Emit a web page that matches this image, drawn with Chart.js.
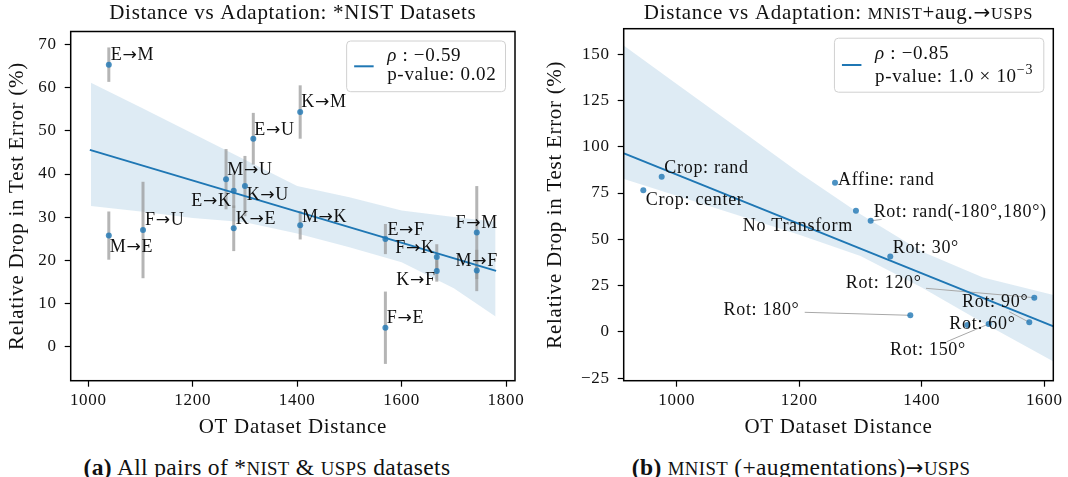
<!DOCTYPE html>
<html>
<head>
<meta charset="utf-8">
<script src="https://cdn.jsdelivr.net/npm/chart.js@4.4.1/dist/chart.umd.min.js"></script>
<style>
  body { margin: 0; background: #fff; width: 1068px; height: 477px; position: relative; overflow: hidden;
         font-family: "Liberation Serif", serif; color: #111; }
  .panel { position: absolute; top: 0; width: 534px; height: 445px; }
  .cap { position: absolute; top: 453px; width: 534px; text-align: center; font-size: 23.5px; line-height: 28px; letter-spacing: 0.35px; }
  .sc { font-size: 0.8em; }
  .ar { font-family: "DejaVu Sans", sans-serif; font-size: 0.9em; }
</style>
</head>
<body>
<div class="panel" style="left:0"><canvas id="left"></canvas></div>
<div class="panel" style="left:534px"><canvas id="right"></canvas></div>
<div class="cap" style="left:0"><b>(a)</b> All pairs of *<span class="sc">NIST</span> &amp; <span class="sc">USPS</span> datasets</div>
<div class="cap" style="left:534px"><b>(b)</b> <span class="sc">MNIST</span> (+augmentations)<span class="ar">→</span><span class="sc">USPS</span></div>
<script>
// ---- left panel: *NIST pairs ----
const pairLabels = ['E→M', 'K→M', 'E→U', 'M→U', 'E→K', 'K→U', 'K→E', 'M→K', 'F→U', 'M→E', 'E→F', 'F→M', 'F→K', 'K→F', 'M→F', 'F→E'];
const pairDist = [1039.3, 1405.8, 1316, 1263.8, 1278.5, 1300, 1278.5, 1405.8, 1104.8, 1039.3, 1569, 1744, 1667.4, 1667.4, 1744, 1569];
const pairDrop = [65.4, 54.4, 48.2, 38.8, 36.1, 37.2, 27.4, 28.1, 27.0, 25.7, 24.9, 26.4, 20.7, 17.5, 17.6, 4.3];
const pairErr = [4, 6.2, 6, 7, 4, 7, 5.3, 3.3, 11.2, 5.6, 3.5, 10.8, 3, 2.5, 4.8, 8.4];
const fitXLeft = [1003, 1781];
const fitYLeft = [45.6, 17.5];
const bandXLeft = [1005, 1100, 1200, 1300, 1400, 1500, 1600, 1700, 1780];
const bandHiLeft = [61.2, 55.5, 49.4, 43.3, 37.2, 34.6, 31.5, 30.0, 28.9];
const bandLoLeft = [32.6, 31.3, 29.8, 28.8, 26.2, 23.0, 19.5, 13.5, 6.9];
const xTicksLeft = [1000, 1200, 1400, 1600, 1800];
const yTicksLeft = [0, 10, 20, 30, 40, 50, 60, 70];

// ---- right panel: MNIST + augmentations -> USPS ----
const augLabels = ['Crop: center', 'Crop: rand', 'Affine: rand', 'No Transform', 'Rot: rand(-180°,180°)', 'Rot: 30°', 'Rot: 180°', 'Rot: 120°', 'Rot: 90°', 'Rot: 60°', 'Rot: 150°'];
const augDist = [945.5, 975.5, 1258.4, 1292.6, 1316.6, 1348.6, 1381.3, 1583.7, 1575.5, 1474.3, 1509.2];
const augDrop = [76.5, 83.8, 80.6, 65.4, 60.0, 40.8, 9.0, 18.5, 5.2, 3.8, 4.3];
const fitXRight = [914, 1615];
const fitYRight = [96.4, 3.0];
const bandXRight = [914, 1000, 1100, 1200, 1300, 1400, 1500, 1615];
const bandHiRight = [154.5, 133.9, 110, 86, 63.5, 43.5, 29.4, 20];
const bandLoRight = [82.6, 73.5, 63, 52.5, 41, 24, 5, -16];
const xTicksRight = [1000, 1200, 1400, 1600];
const yTicksRight = [-25, 0, 25, 50, 75, 100, 125, 150];

// label placement (px offset from the point, alignment, optional leader end)
const pairLabelPos = [
  [2, -4.5, 'left'], [1, -5, 'left'], [1, -4, 'left'], [1.3, -4.3, 'left'], [-2, 15, 'right'],
  [1.7, 14, 'left'], [2, -4.3, 'left'], [1.7, -3.6, 'left'], [2, -5, 'left'], [1, 16.6, 'left'],
  [2, -4, 'left'], [0, -4.4, 'center'], [-2, -4.3, 'right'], [-1, 14.3, 'right'], [0, -4.3, 'center'],
  [1.4, -4.4, 'left']
];
const augLabelPos = [
  [2.4, 14.7, 'left'], [2.6, -3.5, 'left'], [3, 2.5, 'left'], [-3, 20, 'right'],
  [3, -4, 'left', [11, -1.4]], [2.4, -3.6, 'left'], [-110.8, -0.3, 'right', [-105.6, -3]],
  [-112.6, -9.4, 'right', [-108.3, -9.4]], [-1, -15, 'right', [-20, -10.6]],
  [-18, 4.3, 'left'], [-98.7, 31, 'left', [-42, 17.7]]
];

const FONT = '"Liberation Serif", serif';
const ARROW_FONT = '"DejaVu Sans", sans-serif';
const SPACING = '0.7px';
const C0 = '#1f77b4';

function fmt(v) { return v < 0 ? '\u2212' + Math.abs(v) : String(v); }
function zip(xs, ys) { return xs.map((x, i) => ({x: x, y: ys[i]})); }

function runFont(r) {
  return (r.italic ? 'italic ' : '') + r.size + 'px ' + (r.fam || FONT);
}

// draw a row of text runs starting / centred / ending at x0
function drawRuns(ctx, runs, x0, y0, align) {
  let w = 0;
  runs.forEach(r => { ctx.font = runFont(r); r.w = ctx.measureText(r.t).width; w += r.w; });
  let x = align === 'center' ? x0 - w / 2 : align === 'right' ? x0 - w : x0;
  ctx.textAlign = 'left';
  ctx.textBaseline = 'alphabetic';
  runs.forEach(r => {
    ctx.font = runFont(r);
    ctx.fillText(r.t, x, y0 + (r.dy || 0));
    x += r.w;
  });
  return w;
}

// split text so that arrows use a font with a long arrow glyph
function arrowRuns(t, size) {
  const out = [];
  t.split('→').forEach((part, i) => {
    if (i > 0) out.push({t: '→', size: size * 0.95, fam: ARROW_FONT, dy: 0});
    if (part) out.push({t: part, size: size});
  });
  return out;
}

function makeChart(id, d) {
  const overlay = {
    id: 'overlay',
    beforeUpdate(chart) { chart.ctx.letterSpacing = SPACING; },
    beforeDraw(chart) { chart.ctx.letterSpacing = SPACING; },
    beforeDatasetDraw(chart, args) {
      if (args.index !== 1) return;
      const {x, y} = chart.scales;
      const ctx = chart.ctx;
      ctx.save();
      if (d.err) {
        ctx.strokeStyle = 'rgba(150,150,150,0.7)';
        ctx.lineWidth = 3;
        d.err.forEach((e, i) => {
          const px = x.getPixelForValue(d.xs[i]);
          ctx.beginPath();
          ctx.moveTo(px, y.getPixelForValue(d.ys[i] - e));
          ctx.lineTo(px, y.getPixelForValue(d.ys[i] + e));
          ctx.stroke();
        });
      }
      ctx.strokeStyle = '#a8a8a8';
      ctx.lineWidth = 1;
      d.labelPos.forEach((p, i) => {
        if (!p[3]) return;
        const px = x.getPixelForValue(d.xs[i]), py = y.getPixelForValue(d.ys[i]);
        ctx.beginPath();
        ctx.moveTo(px, py);
        ctx.lineTo(px + p[3][0], py + p[3][1]);
        ctx.stroke();
      });
      ctx.restore();
    },
    afterDatasetsDraw(chart) {
      const {x, y} = chart.scales;
      const ctx = chart.ctx;
      const a = chart.chartArea;
      ctx.save();
      ctx.letterSpacing = SPACING;
      ctx.fillStyle = '#111';
      // point labels
      d.labels.forEach((t, i) => {
        const p = d.labelPos[i];
        drawRuns(ctx, arrowRuns(t, 18), x.getPixelForValue(d.xs[i]) + p[0], y.getPixelForValue(d.ys[i]) + p[1], p[2]);
      });
      // legend
      const L = d.legend;
      ctx.font = '19px ' + FONT;
      const w1 = ctx.measureText('ρ : ' + L.rho).width;
      const w2 = ctx.measureText('p-value: ' + L.pText).width + (L.exp ? 18 : 0);
      const bw = 40.5 + Math.max(w1, w2) + 9;
      const bx = a.right - 9.5 - bw, by = a.top + 9.5;
      ctx.beginPath();
      ctx.roundRect(bx, by, bw, L.h, 4);
      ctx.fillStyle = 'rgba(255,255,255,0.85)';
      ctx.fill();
      ctx.strokeStyle = '#d0d0d0';
      ctx.lineWidth = 1;
      ctx.stroke();
      ctx.strokeStyle = C0;
      ctx.lineWidth = 2;
      ctx.beginPath();
      ctx.moveTo(bx + 7.5, by + L.lineY);
      ctx.lineTo(bx + 27, by + L.lineY);
      ctx.stroke();
      ctx.fillStyle = '#111';
      drawRuns(ctx, [{t: 'ρ', size: 19, italic: true}, {t: ' : ' + L.rho, size: 19}], bx + 40.5, by + L.row1, 'left');
      const runs = [{t: 'p-value: ' + L.pText, size: 19}];
      if (L.exp) runs.push({t: L.exp, size: 14, dy: -8});
      drawRuns(ctx, runs, bx + 40.5, by + L.row2, 'left');
      // frame
      ctx.strokeStyle = '#000';
      ctx.lineWidth = 1.5;
      ctx.strokeRect(a.left, a.top, a.right - a.left, a.bottom - a.top);
      // title
      drawRuns(ctx, d.title, (a.left + a.right) / 2, 19, 'center');
      ctx.restore();
    }
  };

  return new Chart(document.getElementById(id), {
    type: 'line',
    data: {
      datasets: [
        {data: zip(d.xs, d.ys), showLine: false, pointRadius: 3, pointHoverRadius: 3,
         pointBackgroundColor: 'rgba(31,119,180,0.8)', pointBorderWidth: 0, pointBorderColor: 'transparent'},
        {data: zip(d.fitX, d.fitY), borderColor: C0, borderWidth: 2, pointRadius: 0, fill: false, tension: 0},
        {data: zip(d.bandX, d.bandHi), borderColor: 'transparent', borderWidth: 1, pointRadius: 0,
         fill: '+1', backgroundColor: 'rgba(31,119,180,0.15)', tension: 0},
        {data: zip(d.bandX, d.bandLo), borderColor: 'transparent', borderWidth: 1, pointRadius: 0, fill: false, tension: 0}
      ]
    },
    options: {
      responsive: true,
      maintainAspectRatio: false,
      animation: false,
      events: [],
      layout: {padding: {left: 0, top: d.top, right: d.right, bottom: 0}},
      plugins: {legend: {display: false}, tooltip: {enabled: false}, title: {display: false}},
      scales: {
        x: {
          type: 'linear', min: d.xMin, max: d.xMax,
          afterBuildTicks: s => { s.ticks = d.xTicks.map(v => ({value: v})); },
          afterFit: s => { s.height = 64.3; },
          grid: {drawOnChartArea: false, drawTicks: true, tickLength: 6, tickWidth: 1.2, tickColor: '#000'},
          border: {display: false},
          ticks: {autoSkip: false, maxRotation: 0, padding: 4, color: '#111', font: {family: FONT, size: 17}, callback: v => fmt(v)},
          title: {display: true, text: 'OT Dataset Distance', color: '#111', font: {family: FONT, size: 21, lineHeight: 1}, padding: {top: 0, bottom: 7}}
        },
        y: {
          type: 'linear', min: d.yMin, max: d.yMax,
          afterBuildTicks: s => { s.ticks = d.yTicks.map(v => ({value: v})); },
          afterFit: s => { s.width = d.left; },
          grid: {drawOnChartArea: false, drawTicks: true, tickLength: 6, tickWidth: 1.2, tickColor: '#000'},
          border: {display: false},
          ticks: {autoSkip: false, padding: 8, color: '#111', font: {family: FONT, size: 17}, callback: v => fmt(v)},
          title: {display: true, text: 'Relative Drop in Test Error (%)', color: '#111', font: {family: FONT, size: 21, lineHeight: 1}, padding: {top: d.yTitlePad, bottom: 0}}
        }
      }
    },
    plugins: [overlay]
  });
}

makeChart('left', {
  xs: pairDist, ys: pairDrop, err: pairErr, labels: pairLabels, labelPos: pairLabelPos,
  fitX: fitXLeft, fitY: fitYLeft, bandX: bandXLeft, bandHi: bandHiLeft, bandLo: bandLoLeft,
  xTicks: xTicksLeft, yTicks: yTicksLeft, xMin: 966.3, xMax: 1817.2, yMin: -8, yMax: 73.1,
  left: 70.7, right: 19, top: 31.5, yTitlePad: 7,
  legend: {rho: '\u22120.59', pText: '0.02', h: 50.7, lineY: 25.3, row1: 20, row2: 39},
  title: [{t: 'Distance vs Adaptation: *NIST Datasets', size: 21}]
});

makeChart('right', {
  xs: augDist, ys: augDrop, err: null, labels: augLabels, labelPos: augLabelPos,
  fitX: fitXRight, fitY: fitYRight, bandX: bandXRight, bandHi: bandHiRight, bandLo: bandLoRight,
  xTicks: xTicksRight, yTicks: yTicksRight, xMin: 913.5, xMax: 1614.7, yMin: -26.3, yMax: 163.7,
  left: 89.7, right: 14.7, top: 28.7, yTitlePad: 11.3,
  legend: {rho: '\u22120.85', pText: '1.0 \u00d7 10', exp: '\u22123', h: 54, lineY: 26.8, row1: 21, row2: 44},
  title: [{t: 'Distance vs Adaptation: ', size: 21}, {t: 'MNIST', size: 16.5}, {t: '+aug.', size: 21},
          {t: '→', size: 20, fam: ARROW_FONT}, {t: 'USPS', size: 16.5}]
});
</script>
</body>
</html>
